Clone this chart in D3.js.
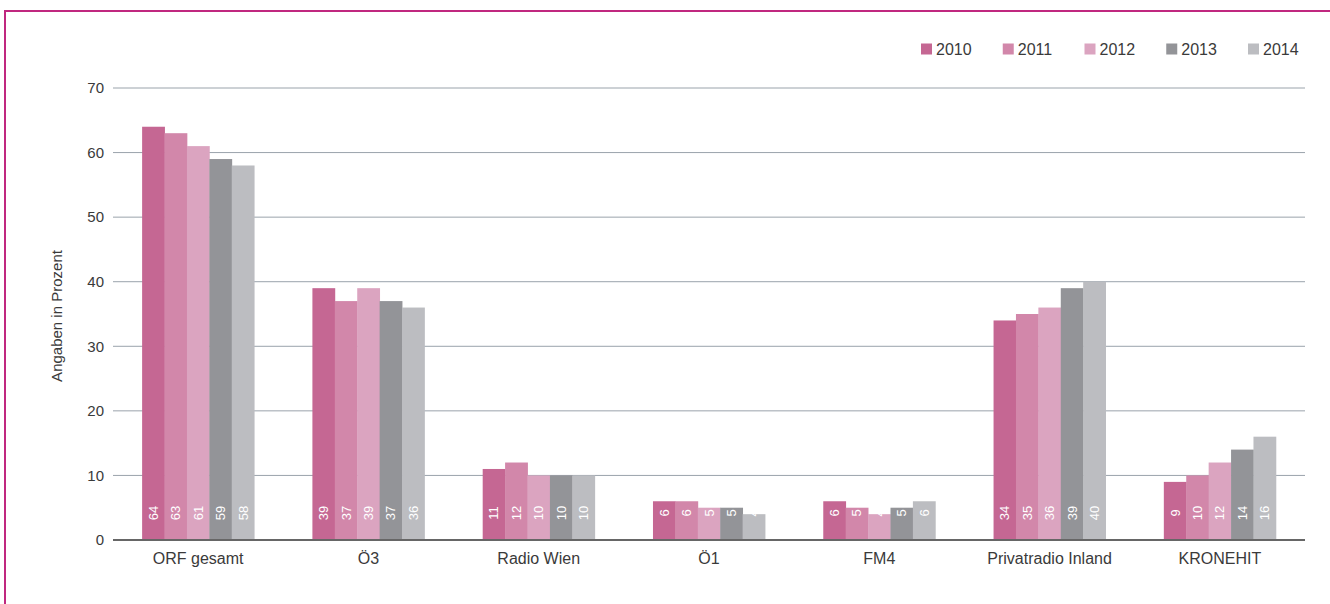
<!DOCTYPE html>
<html><head><meta charset="utf-8">
<script src="https://cdn.jsdelivr.net/npm/d3@7"></script>
<style>
html,body{margin:0;padding:0;background:#fff;}
svg{display:block;font-family:"Liberation Sans",Arial,sans-serif;}
</style></head>
<body><svg id="c" width="1330" height="604"></svg>
<script>
const categories = ["ORF gesamt","Ö3","Radio Wien","Ö1","FM4","Privatradio Inland","KRONEHIT"];
const years = ["2010","2011","2012","2013","2014"];
const v2010 = [64,39,11,6,6,34,9];
const v2011 = [63,37,12,6,5,35,10];
const v2012 = [61,39,10,5,4,36,12];
const v2013 = [59,37,10,5,5,39,14];
const v2014 = [58,36,10,4,6,40,16];
const yTicks = [0,10,20,30,40,50,60,70];
const colors = ["#c56793","#d287aa","#dba4c0","#939498","#bcbdc1"];
const series = [v2010,v2011,v2012,v2013,v2014];

const svg = d3.select("#c");
// frame
svg.append("line").attr("x1",5).attr("x2",1330).attr("y1",11).attr("y2",11).attr("stroke","#c0287f").attr("stroke-width",2);
svg.append("line").attr("x1",5).attr("x2",5).attr("y1",10).attr("y2",604).attr("stroke","#c0287f").attr("stroke-width",2);

const L=113, R=1305, T=88, B=540;
const x0 = d3.scaleBand().domain(categories).range([L,R]).paddingInner(0.342).paddingOuter(0.171);
const x1 = d3.scaleBand().domain(years).range([0,x0.bandwidth()]);
const y = d3.scaleLinear().domain([0,70]).range([B,T]);
const txt = "#3a3a3a";

// grid
const g = svg.append("g");
g.selectAll("line.grid").data(yTicks.filter(d=>d>0)).join("line")
 .attr("x1",L).attr("x2",R).attr("y1",d=>y(d)).attr("y2",d=>y(d))
 .attr("stroke","#9aa3ab").attr("stroke-width",1);
g.selectAll("text.yt").data(yTicks).join("text")
 .attr("x",104).attr("y",d=>y(d)).attr("dy","0.35em").attr("text-anchor","end")
 .attr("font-size",15).attr("fill",txt).text(d=>d);
svg.append("text").attr("transform","translate(62,316) rotate(-90)").attr("text-anchor","middle")
 .attr("font-size",15).attr("fill",txt).text("Angaben in Prozent");

// bars
const groups = svg.append("g").selectAll("g").data(categories).join("g")
 .attr("transform",d=>`translate(${x0(d)},0)`);
groups.each(function(cat,ci){
  const gg = d3.select(this);
  const data = years.map((yr,si)=>({yr,si,v:series[si][ci]}));
  gg.selectAll("rect").data(data).join("rect")
   .attr("x",d=>x1(d.yr)).attr("width",x1.bandwidth()+0.4)
   .attr("y",d=>y(d.v)).attr("height",d=>B-y(d.v)).attr("fill",d=>colors[d.si]);
  gg.selectAll("text").data(data).join("text")
   .attr("transform",d=>`translate(${x1(d.yr)+x1.bandwidth()/2},${B-27}) rotate(-90)`)
   .attr("text-anchor","middle").attr("dy","0.35em").attr("font-size",13).attr("fill","#fff")
   .text(d=>d.v);
});
// axis baseline
svg.append("line").attr("x1",L).attr("x2",R).attr("y1",B).attr("y2",B).attr("stroke","#666").attr("stroke-width",2);
svg.append("g").selectAll("text").data(categories).join("text")
 .attr("x",d=>x0(d)+x0.bandwidth()/2).attr("y",558).attr("dy","0.35em").attr("text-anchor","middle")
 .attr("font-size",16).attr("fill",txt).text(d=>d);

// legend
const lx = d3.scalePoint().domain(years).range([921,1248]);
const lg = svg.append("g").selectAll("g").data(years).join("g").attr("transform",d=>`translate(${lx(d)},49)`);
lg.append("rect").attr("x",0).attr("y",-5.5).attr("width",11).attr("height",11).attr("fill",(d,i)=>colors[i]);
lg.append("text").attr("x",15).attr("dy","0.35em").attr("font-size",16).attr("fill",txt).text(d=>d);
</script></body></html>
